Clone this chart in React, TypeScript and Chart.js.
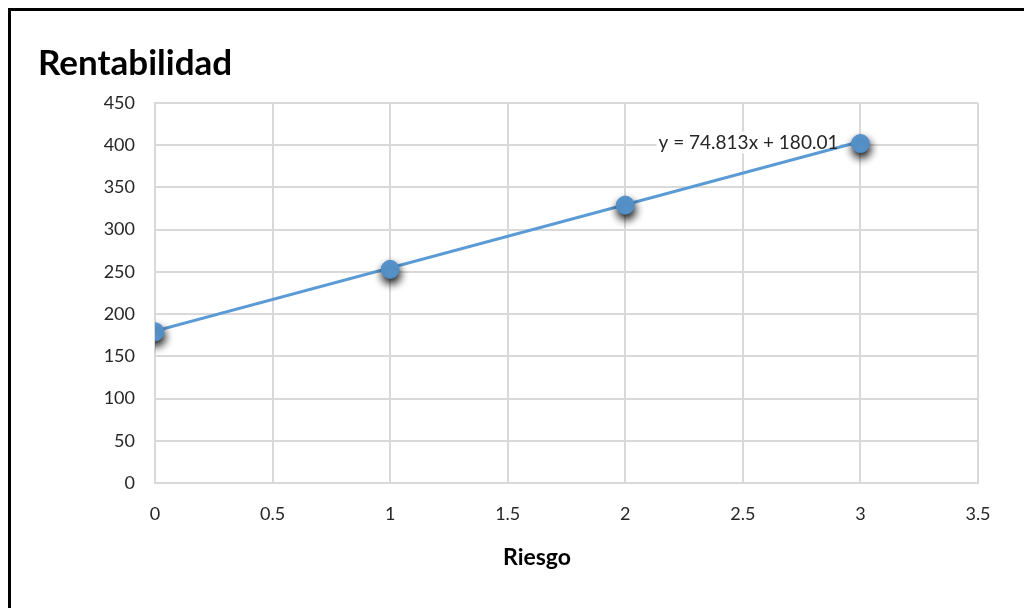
import { useEffect, useRef } from 'react'
import { Chart, registerables } from 'chart.js'

Chart.register(...registerables)

const riesgo = [0, 1, 2, 3]
const rentabilidad = [179, 253, 329, 402]
const trendX = [0, 3]
const trendY = [180.01, 404.45]
const equation = 'y = 74.813x + 180.01'
const chartTitle = 'Rentabilidad'
const xTitle = 'Riesgo'
const xRange = [0, 3.5, 0.5]
const yRange = [0, 450, 50]

const BLUE = '#5B9BD5'
const GRID = '#d9d9d9'
const FONT = 'Lato, "Noto Sans", sans-serif'

export default function App() {
  const canvasRef = useRef<HTMLCanvasElement>(null)
  const chartRef = useRef<Chart | null>(null)

  useEffect(() => {
    if (!canvasRef.current) return
    document.body.style.overflow = 'hidden'

    // shadow under the markers, like the Excel preset
    const shadowPlugin = {
      id: 'markerShadow',
      beforeDatasetDraw(chart: Chart, args: any) {
        if (args.index !== 0) return
        const c = chart.ctx
        c.save()
        c.shadowColor = 'rgba(0,0,0,0.95)'
        c.shadowBlur = 8
        c.shadowOffsetX = 1
        c.shadowOffsetY = 5
      },
      afterDatasetDraw(chart: Chart, args: any) {
        if (args.index !== 0) return
        chart.ctx.restore()
      },
    }

    const eqPos = (chart: Chart) => {
      const x = chart.scales['x'] as any
      const y = chart.scales['y'] as any
      const last = trendX.length - 1
      return [x.getPixelForValue(trendX[last]) - 22, y.getPixelForValue(trendY[last]) + 1]
    }

    const textPlugin = {
      id: 'texts',
      beforeDatasetsDraw(chart: Chart) {
        // label box hides the grid, the trend line goes over it
        const c = chart.ctx
        const [px, py] = eqPos(chart)
        c.save()
        c.font = `400 19px ${FONT}`
        const w = c.measureText(equation).width
        c.fillStyle = '#fff'
        c.fillRect(px - w - 2, py - 11, w + 4, 22)
        c.restore()
      },
      afterDatasetsDraw(chart: Chart) {
        const c = chart.ctx
        const [px, py] = eqPos(chart)
        c.save()
        c.font = `400 19px ${FONT}`
        c.fillStyle = '#262626'
        c.textAlign = 'right'
        c.textBaseline = 'middle'
        c.fillText(equation, px, py)
        c.restore()
      },
      afterDraw(chart: Chart) {
        const c = chart.ctx
        c.save()
        c.font = `700 35px ${FONT}`
        c.fillStyle = '#000'
        c.textAlign = 'left'
        c.textBaseline = 'alphabetic'
        c.fillText(chartTitle, 27, 64)
        c.font = `700 23px ${FONT}`
        c.textAlign = 'center'
        c.fillText(xTitle, 526, 554)
        c.restore()
      },
    }

    chartRef.current = new Chart(canvasRef.current, {
      type: 'scatter',
      data: {
        datasets: [
          {
            label: 'Rentabilidad',
            data: riesgo.map((r, i) => ({ x: r, y: rentabilidad[i] })),
            backgroundColor: BLUE,
            borderColor: '#4f8fcb',
            borderWidth: 1,
            pointRadius: 9,
            order: 0,
          },
          {
            type: 'line',
            label: 'Tendencia',
            data: trendX.map((r, i) => ({ x: r, y: trendY[i] })),
            borderColor: BLUE,
            borderWidth: 3,
            pointRadius: 0,
            showLine: true,
            fill: false,
            order: 1,
          } as any,
        ],
      },
      options: {
        responsive: true,
        maintainAspectRatio: false,
        animation: false,
        layout: { padding: { left: 0, right: 54, top: 92, bottom: 0 } },
        plugins: { legend: { display: false }, tooltip: { enabled: false }, title: { display: false } },
        scales: {
          x: {
            type: 'linear',
            min: xRange[0], max: xRange[1],
            ticks: {
              stepSize: xRange[2], padding: 20, color: '#262626', font: { family: FONT, size: 18 },
              callback: (v: any) => String(v),
            },
            grid: { color: GRID, lineWidth: 2, drawTicks: false },
            border: { color: GRID, width: 2 },
            afterFit: (s: any) => { s.height = 125 },
          },
          y: {
            min: yRange[0], max: yRange[1],
            ticks: { stepSize: yRange[2], padding: 20, color: '#262626', font: { family: FONT, size: 18 } },
            grid: { color: GRID, lineWidth: 2, drawTicks: false },
            border: { color: GRID, width: 2 },
            afterFit: (s: any) => { s.width = 144 },
          },
        },
      },
      plugins: [shadowPlugin as any, textPlugin as any],
    })

    return () => { chartRef.current?.destroy(); chartRef.current = null }
  }, [])

  return (
    <div style={{ width: 1024, height: 600, borderTop: '3px solid #000', borderLeft: '3px solid #000', background: '#fff' }}>
      <div style={{ position: 'relative', width: 1021, height: 597 }}>
        <canvas ref={canvasRef} />
      </div>
    </div>
  )
}
